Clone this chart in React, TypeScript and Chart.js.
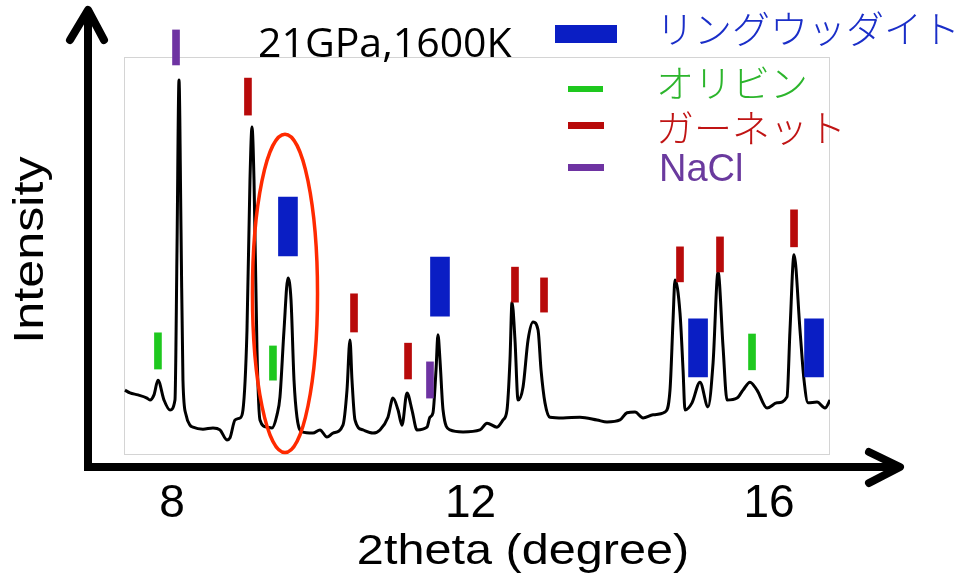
import { useEffect, useRef } from "react";
import { Chart, registerables } from "chart.js";

Chart.register(...registerables);

// Diffraction pattern: 2θ (degree) and relative intensity
const TWO_THETA = [
  7.37, 7.437, 7.544, 7.665, 7.705, 7.759, 7.812, 7.893, 7.973, 8.04, 8.067, 8.094, 8.121, 8.147, 8.188,
  8.241, 8.281, 8.415, 8.549, 8.643, 8.737, 8.777, 8.844, 8.911, 8.951, 9.005, 9.045, 9.072, 9.099, 9.139,
  9.179, 9.273, 9.34, 9.407, 9.447, 9.501, 9.554, 9.595, 9.635, 9.675, 9.742, 9.889, 9.983, 10.077, 10.157,
  10.291, 10.345, 10.385, 10.412, 10.452, 10.559, 10.693, 10.787, 10.894, 10.961, 11.029, 11.082, 11.149,
  11.216, 11.283, 11.417, 11.457, 11.497, 11.538, 11.564, 11.591, 11.632, 11.725, 11.9, 12.127, 12.221,
  12.355, 12.436, 12.489, 12.529, 12.556, 12.596, 12.637, 12.704, 12.771, 12.838, 12.905, 12.945, 12.998,
  13.065, 13.24, 13.467, 13.695, 13.829, 14.003, 14.097, 14.204, 14.312, 14.446, 14.606, 14.673, 14.714,
  14.74, 14.807, 14.848, 14.874, 14.968, 15.075, 15.183, 15.25, 15.317, 15.384, 15.437, 15.571, 15.651,
  15.745, 15.839, 15.973, 16.107, 16.241, 16.281, 16.335, 16.415, 16.469, 16.523, 16.643, 16.75, 16.818,
];
const INTENSITY = [
  16.3, 15.6, 15.1, 14.3, 13.8, 15.1, 18.8, 13.8, 11.3, 13.8, 51.3, 94.2, 56.5, 18.8, 10.1,
  7.5, 7.0, 6.5, 6.8, 6.3, 3.8, 4.3, 8.8, 9.3, 11.3, 31.4, 69.1, 82.4, 69.1, 26.4,
  8.8, 7.0, 6.8, 10.1, 14.6, 31.4, 44.5, 38.9, 18.8, 9.5, 5.8, 5.5, 6.3, 4.5, 5.5,
  7.5, 16.3, 28.9, 18.8, 8.8, 6.3, 5.5, 6.3, 9.5, 14.3, 11.3, 7.5, 15.6,
  11.3, 6.3, 7.0, 9.5, 10.6, 21.4, 30.2, 23.9, 11.3, 6.3, 5.8, 6.3, 8.0,
  7.0, 8.8, 11.3, 23.9, 38.4, 28.9, 13.8, 17.1, 28.9, 33.4, 31.4, 21.4, 13.1,
  9.5, 9.3, 9.5, 8.8, 8.3, 8.8, 10.6, 10.8, 9.3, 10.1, 10.8, 16.3, 33.9,
  44.0, 35.7, 21.4, 11.3, 13.1, 18.3, 12.1, 23.1, 46.0, 27.1, 13.8, 14.3, 16.3,
  18.3, 16.3, 11.8, 13.1, 14.6, 31.4, 50.3, 31.4, 18.8, 13.1, 13.3, 11.8, 13.8,
];

const X_TICKS = [8, 12, 16];

// Reference line positions (2θ) for each phase, with the span of each marker
const RINGWOODITE_POS = [9.554, 11.591, 15.049, 16.603];
const RINGWOODITE_LOW = [50.0, 34.9, 19.6, 19.6];
const RINGWOODITE_HIGH = [64.8, 49.7, 34.2, 34.2];

const OLIVINE_POS = [7.812, 9.353, 15.772];
const OLIVINE_LOW = [21.6, 18.8, 21.4];
const OLIVINE_HIGH = [30.7, 27.4, 30.4];

const GARNET_POS = [9.018, 10.439, 11.163, 12.596, 12.985, 14.807, 15.343, 16.335];
const GARNET_LOW = [85.4, 30.9, 19.1, 38.4, 35.9, 43.5, 46.0, 52.3];
const GARNET_HIGH = [94.7, 40.5, 28.1, 47.2, 44.5, 52.3, 54.8, 61.6];

const NACL_POS = [8.054, 11.457];
const NACL_LOW = [98.0, 14.3];
const NACL_HIGH = [106.8, 23.4];

const PHASE_LABELS = ["リングウッダイト", "オリビン", "ガーネット", "NaCl"];
const CONDITION = "21GPa,1600K";
const X_TITLE = "2theta (degree)";
const Y_TITLE = "Intensity";

const COLORS = {
  ringwoodite: "#0a1ec4",
  olivine: "#1ec81e",
  garnet: "#b80a0a",
  nacl: "#6e33a2",
};
const TEXT_COLORS = ["#1a2ec8", "#2cb52c", "#c01414", "#6a3a9e"];

// Highlighted peak (2θ centre, intensity centre, half sizes in data units)
const HIGHLIGHT = { x: 9.514, y: 40.6, rx: 0.436, ry: 40.0 };

const markers = (pos: number[], low: number[], high: number[]) =>
  pos.map((x, i) => ({ x, y: [low[i], high[i]] }));

const SANS = '"Liberation Sans", Arial, sans-serif';

function stretchedText(
  ctx: CanvasRenderingContext2D,
  text: string,
  x: number,
  y: number,
  sx: number
) {
  ctx.save();
  ctx.translate(x, y);
  ctx.scale(sx, 1);
  ctx.fillText(text, 0, 0);
  ctx.restore();
}

const decor = {
  id: "decor",
  beforeDraw(chart: any) {
    const { ctx, chartArea: a } = chart;
    ctx.save();
    ctx.fillStyle = "#ffffff";
    ctx.fillRect(0, 0, chart.width, chart.height);
    ctx.strokeStyle = "#d4d4d4";
    ctx.lineWidth = 1;
    ctx.strokeRect(a.left + 0.5, a.top + 0.5, a.width - 1, a.height - 1);
    ctx.restore();
  },
  afterDatasetsDraw(chart: any) {
    const { ctx, chartArea: a, scales } = chart;
    const xs = scales.x;
    const ys = scales.y;
    ctx.save();

    // highlight ellipse around the ringwoodite peak
    const cx = xs.getPixelForValue(HIGHLIGHT.x);
    const cy = ys.getPixelForValue(HIGHLIGHT.y);
    const rx = Math.abs(xs.getPixelForValue(HIGHLIGHT.x + HIGHLIGHT.rx) - cx);
    const ry = Math.abs(ys.getPixelForValue(HIGHLIGHT.y + HIGHLIGHT.ry) - cy);
    ctx.beginPath();
    ctx.ellipse(cx, cy, rx, ry, 0, 0, Math.PI * 2);
    ctx.strokeStyle = "#ff2a00";
    ctx.lineWidth = 3.5;
    ctx.stroke();

    // axis arrows
    const ax = a.left - 36;
    const ay = a.bottom + 12;
    ctx.strokeStyle = "#000";
    ctx.lineWidth = 8;
    ctx.lineJoin = "miter";
    ctx.lineCap = "butt";
    ctx.beginPath();
    ctx.moveTo(ax, 10);
    ctx.lineTo(ax, ay);
    ctx.lineTo(898, ay);
    ctx.stroke();
    ctx.lineCap = "round";
    ctx.lineJoin = "round";
    ctx.beginPath();
    ctx.moveTo(ax - 18, 40);
    ctx.lineTo(ax, 10);
    ctx.lineTo(ax + 16, 40);
    ctx.moveTo(869, ay - 15);
    ctx.lineTo(900, ay);
    ctx.lineTo(869, ay + 16);
    ctx.stroke();

    // axis titles
    ctx.fillStyle = "#000";
    ctx.font = `43px ${SANS}`;
    ctx.textAlign = "center";
    ctx.textBaseline = "alphabetic";
    stretchedText(ctx, X_TITLE, 523, 564, 1.13);
    ctx.save();
    ctx.translate(43, 250);
    ctx.rotate(-Math.PI / 2);
    stretchedText(ctx, Y_TITLE, 0, 0, 1.17);
    ctx.restore();

    // condition label
    ctx.textAlign = "left";
    ctx.font = '41px "Open Sans", sans-serif';
    ctx.fillText(CONDITION, 258, 57);

    // phase legend
    const bars = chart.data.datasets.filter((d: any) => d.type === "bar");
    const rows = [
      { sw: [555, 25, 62, 18], ty: 29 },
      { sw: [568, 86, 35, 6], ty: 83 },
      { sw: [568, 122, 36, 7], ty: 128 },
      { sw: [568, 164, 36, 7], ty: 171 },
    ];
    ctx.textBaseline = "middle";
    bars.forEach((d: any, i: number) => {
      const r = rows[i];
      ctx.fillStyle = d.backgroundColor;
      ctx.fillRect(r.sw[0], r.sw[1], r.sw[2], r.sw[3]);
      ctx.fillStyle = TEXT_COLORS[i];
      ctx.font =
        i === 3
          ? `38px ${SANS}`
          : '300 38px "Noto Sans CJK JP", sans-serif';
      ctx.fillText(d.label, i === 3 ? 659 : 656, r.ty);
    });

    ctx.restore();
  },
};

export default function App() {
  const ref = useRef<HTMLCanvasElement | null>(null);

  useEffect(() => {
    const canvas = ref.current;
    if (!canvas) return;
    const barSet = (label: string, data: any[], color: string, thickness: number) => ({
      type: "bar" as const,
      label,
      data,
      backgroundColor: color,
      borderWidth: 0,
      barThickness: thickness,
      grouped: false,
      clip: false as any,
      order: 1,
    });

    const chart = new Chart(canvas, {
      type: "bar",
      data: {
        datasets: [
          {
            type: "line",
            label: "XRD",
            data: TWO_THETA.map((x, i) => ({ x, y: INTENSITY[i] })),
            borderColor: "#000",
            borderWidth: 3,
            pointRadius: 0,
            cubicInterpolationMode: "monotone",
            fill: false,
            order: 2,
          } as any,
          barSet(PHASE_LABELS[0], markers(RINGWOODITE_POS, RINGWOODITE_LOW, RINGWOODITE_HIGH), COLORS.ringwoodite, 19),
          barSet(PHASE_LABELS[1], markers(OLIVINE_POS, OLIVINE_LOW, OLIVINE_HIGH), COLORS.olivine, 7),
          barSet(PHASE_LABELS[2], markers(GARNET_POS, GARNET_LOW, GARNET_HIGH), COLORS.garnet, 7),
          barSet(PHASE_LABELS[3], markers(NACL_POS, NACL_LOW, NACL_HIGH), COLORS.nacl, 7),
        ],
      },
      options: {
        responsive: false,
        animation: false,
        events: [],
        layout: { padding: { left: 124, right: 140, top: 57, bottom: 0 } },
        plugins: {
          legend: { display: false },
          tooltip: { enabled: false },
          title: { display: false },
        },
        scales: {
          x: {
            type: "linear",
            min: 7.357,
            max: 16.817,
            offset: false,
            grid: { display: false, drawTicks: false },
            border: { display: false },
            afterBuildTicks: (scale: any) => {
              scale.ticks = X_TICKS.map((value) => ({ value }));
            },
            afterFit: (scale: any) => {
              scale.height = 128;
            },
            ticks: {
              color: "#000",
              padding: 22,
              maxRotation: 0,
              autoSkip: false,
              font: { family: SANS, size: 46 },
              callback: (v: any) => String(v),
            },
          },
          y: {
            display: false,
            min: 0,
            max: 100,
          },
        },
      } as any,
      plugins: [decor],
    });

    return () => chart.destroy();
  }, []);

  return (
    <div style={{ position: "fixed", left: 0, top: 0, width: 970, height: 583, background: "#fff" }}>
      <canvas ref={ref} width={970} height={583} style={{ display: "block" }} />
    </div>
  );
}
